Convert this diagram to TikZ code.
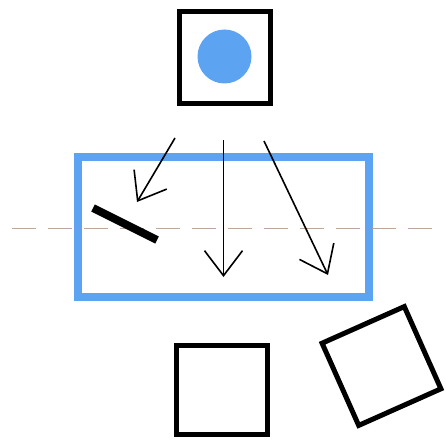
\documentclass[tikz,border=0pt]{standalone}
\usetikzlibrary{arrows.meta}

\definecolor{skyblue}{RGB}{92,164,242}
\definecolor{axisgray}{RGB}{190,165,155}

\newcommand{\boxscl}{91pt}
\newcommand{\sq}{\node[draw, line width=5pt, minimum size=\boxscl, inner sep=0pt]}
\newcommand{\Rsq}{\sq[rotate=24, minimum size=90pt]}
\newcommand{\dotn}{\node[circle, fill=skyblue, minimum size=54pt, inner sep=0pt]}
\newcommand{\tankn}{\node[draw=skyblue, line width=8pt, minimum width=291pt, minimum height=140pt, inner sep=0pt]}

\begin{document}
\begin{tikzpicture}[x=1pt, y=-1pt,
    ray/.style={line width=1.6pt, -{Straight Barb[length=25pt, width=38pt, line width=1.6pt]}}]
            \useasboundingbox (0,0) rectangle (446,441);

            \sq (src) at (225,57.5) {};
            \dotn (spot) at (224.5,56.5) {};
            \tankn (tank) at (223.5,227) {};
            \sq[minimum height=89pt] (det1) at (222,390) {};
            \Rsq (det2) at (381.5,366) {};

            \coordinate (axL) at (12,228);
            \coordinate (axR) at (437,228);
            \draw[axisgray, line width=1pt, dash pattern=on 24pt off 12pt]
                (axL) -- (axR);

            \coordinate (barA) at (93,208);
            \coordinate (barB) at (157,240);
            \draw[line width=8pt]
                (barA) -- (barB);

            \coordinate (r1s) at (175,138);
            \coordinate (r1e) at (137,202);
            \coordinate (r2s) at (223.5,140);
            \coordinate (r2e) at (223.5,277);
            \coordinate (r3s) at (264,141);
            \coordinate (r3e) at (328,275);

            \draw[ray]
                (r1s) -- (r1e);
            \draw[ray]
                (r2s) -- (r2e);
            \draw[ray]
                (r3s) -- (r3e);

        \end{tikzpicture}
\end{document}
